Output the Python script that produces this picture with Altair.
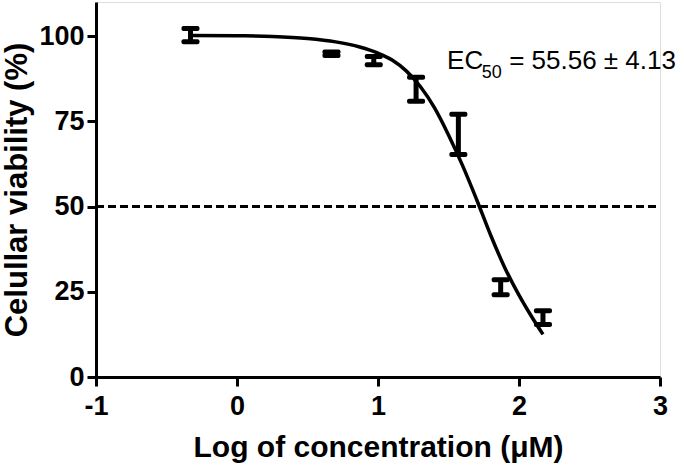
import altair as alt
import pandas as pd

# Measured points (log concentration, mean viability %, error)
log_conc = [-0.33, 0.67, 0.97, 1.27, 1.57, 1.87, 2.17]
viability = [100.3, 94.8, 92.8, 84.4, 71.2, 26.3, 17.4]
err = [1.95, 0.5, 1.2, 3.5, 5.9, 2.2, 2.0]

# Fitted curve
curve_x = [-0.33, 0.0, 0.25, 0.5, 0.7, 0.87, 1.0, 1.1, 1.2, 1.3, 1.4, 1.5, 1.6, 1.7, 1.8, 1.9, 2.0, 2.1, 2.17]
curve_y = [100.2, 100.1, 99.9, 99.3, 98.3, 96.8, 95.0, 93.0, 89.8, 85.2, 79.0, 71.0, 62.0, 52.0, 41.5, 32.0, 24.0, 17.0, 12.5]

half_line = [50]
x_ticks = [-1, 0, 1, 2, 3]
y_ticks = [0, 25, 50, 75, 100]

# Annotation pieces: text, x, y
ann_text = ["EC", "50", "= 55.56 ± 4.13"]
ann_x = [1.49, 1.735, 1.93]
ann_y = [90.3, 87.8, 90.3]
ann_size = [26, 18, 26]

FONT = "Liberation Sans"

pts = pd.DataFrame({"x": log_conc, "y": viability, "e": err})
pts["lo"] = pts["y"] - pts["e"]
pts["hi"] = pts["y"] + pts["e"]
curve = pd.DataFrame({"x": curve_x, "y": curve_y})
hl = pd.DataFrame({"y": half_line})
ann = pd.DataFrame({"t": ann_text, "x": ann_x, "y": ann_y, "s": ann_size})

xs = alt.Scale(domain=[-1, 3], nice=False, zero=False)
ys = alt.Scale(domain=[0, 110], nice=False)

x_axis = alt.Axis(values=x_ticks, title="Log of concentration (μM)", labelExpr="'' + datum.value",
                  grid=False, domainWidth=3, domainColor="black", tickWidth=3, tickColor="black",
                  tickSize=9, labelFont=FONT, labelFontSize=27, labelFontWeight="bold",
                  labelColor="black", labelPadding=7, titleFont=FONT, titleFontSize=30,
                  titleFontWeight="bold", titleColor="black", titlePadding=13, labelFlush=False)
y_axis = alt.Axis(values=y_ticks, title="Celullar viability (%)", labelExpr="'' + datum.value",
                  grid=False, domainWidth=3, domainColor="black", tickWidth=3, tickColor="black",
                  tickSize=9, labelFont=FONT, labelFontSize=27, labelFontWeight="bold",
                  labelColor="black", labelPadding=3, titleFont=FONT, titleFontSize=31,
                  titleFontWeight="bold", titleColor="black", titlePadding=5)

dash = alt.Chart(hl).mark_rule(color="black", strokeWidth=3, strokeDash=[8, 4]).encode(
    y=alt.Y("y:Q", scale=ys, axis=y_axis),
    x=alt.value(0), x2=alt.value(560))

line = alt.Chart(curve).mark_line(color="black", strokeWidth=3.5, interpolate="monotone").encode(
    x=alt.X("x:Q", scale=xs, axis=x_axis), y=alt.Y("y:Q", scale=ys))

bars = alt.Chart(pts).mark_rule(color="black", strokeWidth=5).encode(
    x=alt.X("x:Q", scale=xs), y=alt.Y("lo:Q", scale=ys), y2="hi:Q")

cap_lo = alt.Chart(pts).mark_tick(color="black", opacity=1, size=18, thickness=5, cornerRadius=2,
                                  orient="horizontal").encode(
    x=alt.X("x:Q", scale=xs), y=alt.Y("lo:Q", scale=ys))
cap_hi = alt.Chart(pts).mark_tick(color="black", opacity=1, size=18, thickness=5, cornerRadius=2,
                                  orient="horizontal").encode(
    x=alt.X("x:Q", scale=xs), y=alt.Y("hi:Q", scale=ys))

text = alt.Chart(ann).mark_text(align="left", baseline="alphabetic", font=FONT, color="black").encode(
    x=alt.X("x:Q", scale=xs), y=alt.Y("y:Q", scale=ys), text="t:N",
    size=alt.Size("s:Q", scale=None, legend=None))

chart = alt.layer(dash, line, bars, cap_lo, cap_hi, text).properties(
    width=564, height=375,
    autosize=alt.AutoSizeParams(type="none"),
    padding={"left": 96, "top": 2, "right": 24, "bottom": 93},
).configure_view(stroke=None).configure(background="white")

chart.save("out.html", embed_options={"renderer": "svg", "actions": False})
